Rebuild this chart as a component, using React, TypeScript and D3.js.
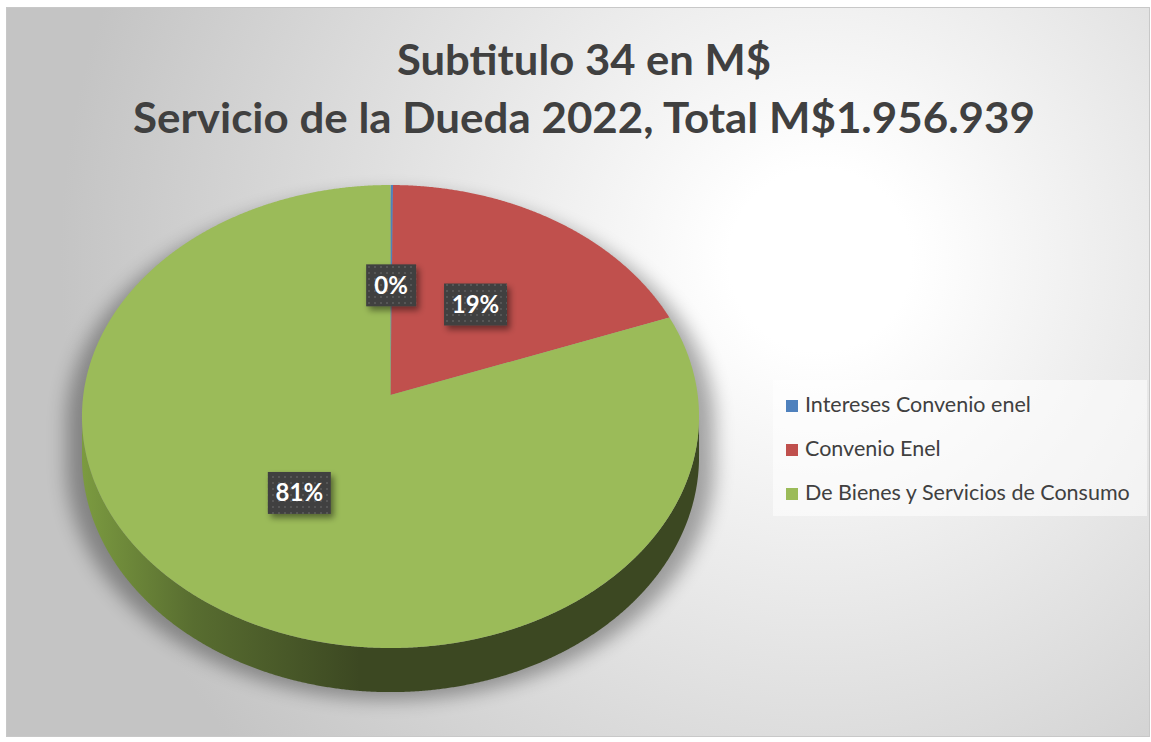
import React from "react";
import * as d3 from "d3";

const titleLines = ["Subtitulo 34 en M$", "Servicio de la Dueda 2022, Total M$1.956.939"];
const categories = ["Intereses Convenio enel", "Convenio Enel", "De Bienes y Servicios de Consumo"];
const values = [2800, 375700, 1578439];
const colors = ["#4F81BD", "#C0504D", "#9BBB59"];
const sideColors = [
  ["#3f6797", "#284466"],
  ["#9a403e", "#602826"],
  ["#7b9a40", "#3c4822"],
];

const W = 1151;
const H = 742;
// 3D pie projection parameters
const CX = 390.5;
const CY = 395;
const A = 307.2;
const B = 229.5;
const K = 0.0929;
const DEPTH = 40;

function proj(theta: number, r: number): [number, number] {
  const u = r * Math.sin(theta);
  const v = -r * Math.cos(theta);
  const w = 1 - K * v;
  return [CX + (A * u) / w, CY + (B * v) / w];
}
function projBottom(theta: number): [number, number] {
  const v = -Math.cos(theta);
  const w = 1 - K * v;
  const [x, y] = proj(theta, 1);
  return [x, y + DEPTH / w];
}
function samples(a0: number, a1: number, step = Math.PI / 720): number[] {
  const out: number[] = [];
  const n = Math.max(2, Math.ceil((a1 - a0) / step));
  for (let i = 0; i <= n; i++) out.push(a0 + ((a1 - a0) * i) / n);
  return out;
}

const line = d3.line<[number, number]>().x((d) => d[0]).y((d) => d[1]);

export default function App() {
  const pie = d3.pie<number>().sort(null).value((d) => d)(values);
  const total = d3.sum(values);
  const sil1 = Math.acos(-K);
  const sil2 = 2 * Math.PI - sil1;

  const topPaths = pie.map((s) => {
    const pts: [number, number][] = [[CX, CY], ...samples(s.startAngle, s.endAngle).map((t) => proj(t, 1))];
    return line(pts) + "Z";
  });

  const walls = pie
    .map((s, i) => {
      const a0 = Math.max(s.startAngle, sil1);
      const a1 = Math.min(s.endAngle, sil2);
      if (a1 <= a0) return null;
      const ts = samples(a0, a1);
      const pts: [number, number][] = [
        ...ts.map((t) => proj(t, 1)),
        ...ts.slice().reverse().map((t) => projBottom(t)),
      ];
      return { i, d: line(pts) + "Z" };
    })
    .filter(Boolean) as { i: number; d: string }[];

  const silPts: [number, number][] = [
    ...samples(sil2 - 2 * Math.PI, sil1).map((t) => proj(t, 1)),
    ...samples(sil1, sil2).map((t) => projBottom(t)),
  ];
  const silhouette = line(silPts) + "Z";

  const fmtPct = (v: number) => `${Math.round((v / total) * 100)}%`;
  const labels = pie.map((s) => {
    const mid = (s.startAngle + s.endAngle) / 2;
    const [x, y] = proj(mid, 0.5);
    const txt = fmtPct(s.value);
    return { x, y, txt, w: 24 + 13 * txt.length, h: 42 };
  });

  const font = "Lato, 'Open Sans', 'DejaVu Sans', sans-serif";
  const leftX = proj(-Math.PI / 2, 1)[0];
  const rightX = proj(Math.PI / 2, 1)[0];

  return (
    <svg width={W} height={H} style={{ position: "absolute", left: 0, top: 0 }} xmlns="http://www.w3.org/2000/svg">
      <defs>
        <radialGradient id="bg" gradientUnits="userSpaceOnUse" cx={820} cy={260} r={760}>
          <stop offset="0" stopColor="#ffffff" />
          <stop offset="0.12" stopColor="#ffffff" />
          <stop offset="1" stopColor="#c4c4c4" />
        </radialGradient>
        {sideColors.map((c, i) => (
          <linearGradient key={i} id={`side${i}`} gradientUnits="userSpaceOnUse" x1={leftX} x2={rightX} y1={0} y2={0}>
            <stop offset="0" stopColor={c[0]} />
            <stop offset="0.18" stopColor={d3.interpolateRgb(c[0], c[1])(0.55)} />
            <stop offset="0.45" stopColor={c[1]} />
            <stop offset="1" stopColor={c[1]} />
          </linearGradient>
        ))}
        <filter id="pieShadow" x="-20%" y="-20%" width="140%" height="140%">
          <feGaussianBlur stdDeviation="9" />
        </filter>
        <filter id="boxShadow" x="-30%" y="-30%" width="160%" height="160%">
          <feDropShadow dx="3" dy="4" stdDeviation="3" floodColor="#000" floodOpacity="0.45" />
        </filter>
        <pattern id="dots" width="6" height="6" patternUnits="userSpaceOnUse">
          <rect width="6" height="6" fill="#404040" />
          <rect x="2" y="2" width="2" height="2" fill="#575757" />
        </pattern>
      </defs>

      <rect x={6.5} y={7.5} width={1143} height={729} fill="url(#bg)" stroke="#c8c8c8" strokeWidth={1} />

      <g fill="#404040" fontFamily={font} fontWeight={700} textAnchor="middle">
        <text x={584} y={75} fontSize={42} textLength={374} lengthAdjust="spacingAndGlyphs">
          {titleLines[0]}
        </text>
        <text x={584} y={133} fontSize={42} textLength={902} lengthAdjust="spacingAndGlyphs">
          {titleLines[1]}
        </text>
      </g>

      <g transform={`translate(${CX},8) scale(1.05,1) translate(${-CX},0)`}>
        <path d={silhouette} fill="#000" opacity={0.33} filter="url(#pieShadow)" />
      </g>

      {walls.map((w) => (
        <path key={`w${w.i}`} d={w.d} fill={`url(#side${w.i})`} />
      ))}
      {topPaths.map((d, i) => (
        <path key={`t${i}`} d={d} fill={colors[i]} />
      ))}

      {labels.map((l, i) => (
        <g key={`l${i}`}>
          <rect x={l.x - l.w / 2} y={l.y - l.h / 2} width={l.w} height={l.h} fill="url(#dots)" filter="url(#boxShadow)" />
          <text x={l.x} y={l.y + 8.5} fill="#ffffff" fontFamily={font} fontWeight={700} fontSize={24} textAnchor="middle">
            {l.txt}
          </text>
        </g>
      ))}

      <rect x={773} y={380} width={374} height={136} fill="#ffffff" opacity={0.55} />
      {categories.map((c, i) => (
        <g key={`lg${i}`}>
          <rect x={786} y={400 + i * 44} width={12} height={12} fill={colors[i]} />
          <text x={805} y={412 + i * 44} fill="#404040" fontFamily={font} fontSize={21.5}>
            {c}
          </text>
        </g>
      ))}
    </svg>
  );
}
